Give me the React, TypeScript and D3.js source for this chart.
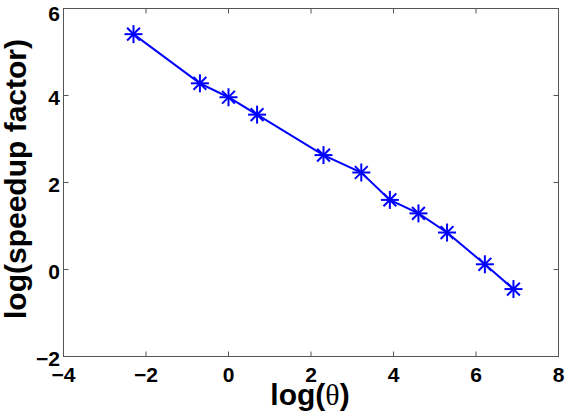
import React from "react";
import * as d3 from "d3";

const xValues = [-2.303, -0.693, 0, 0.693, 2.303, 3.219, 3.912, 4.605, 5.298, 6.215, 6.908];
const yValues = [5.41, 4.28, 3.96, 3.56, 2.63, 2.23, 1.6, 1.29, 0.85, 0.12, -0.45];
const xTicks = [-4, -2, 0, 2, 4, 6, 8];
const yTicks = [-2, 0, 2, 4, 6];

const W = 566, H = 416;
const L = 63.5, R = 558.5, T = 8.5, B = 356.5;

const fmt = (v: number) => (v < 0 ? "\u2212" + Math.abs(v) : String(v));

export default function App() {
  const x = d3.scaleLinear().domain([-4, 8]).range([L, R]);
  const y = d3.scaleLinear().domain([-2, 6]).range([B, T]);
  const pts = xValues.map((v, i) => [x(v), y(yValues[i])] as [number, number]);
  const line = d3.line()(pts) || "";
  const tl = 5;
  const font = "'Liberation Sans', Arial, sans-serif";
  const s = 9;
  const sd = 6.4;
  return (
    <svg width={W} height={H} style={{ position: "absolute", left: 0, top: 0 }}>
      <rect x={0} y={0} width={W} height={H} fill="#fff" />
      {xTicks.map((t) => (
        <g key={"xt" + t}>
          <line x1={x(t)} x2={x(t)} y1={B} y2={B - tl} stroke="#555" strokeWidth={1} />
          <line x1={x(t)} x2={x(t)} y1={T} y2={T + tl} stroke="#555" strokeWidth={1} />
          <text x={x(t)} y={381.5} textAnchor="middle" fontFamily={font} fontWeight="bold" fontSize={21}>
            {fmt(t)}
          </text>
        </g>
      ))}
      {yTicks.map((t) => (
        <g key={"yt" + t}>
          <line x1={L} x2={L + tl} y1={y(t)} y2={y(t)} stroke="#555" strokeWidth={1} />
          <line x1={R} x2={R - tl} y1={y(t)} y2={y(t)} stroke="#555" strokeWidth={1} />
          <text
            x={60}
            y={Math.max(y(t) + 9, 20.5)}
            textAnchor="end"
            fontFamily={font}
            fontWeight="bold"
            fontSize={21}
          >
            {fmt(t)}
          </text>
        </g>
      ))}
      <rect x={L} y={T} width={R - L} height={B - T} fill="none" stroke="#555" strokeWidth={1} />
      <path d={line} fill="none" stroke="#0000ff" strokeWidth={2} />
      {pts.map(([px, py], i) => (
        <g key={"m" + i} stroke="#0000ff" strokeWidth={2}>
          <line x1={px - s} x2={px + s} y1={py} y2={py} />
          <line x1={px} x2={px} y1={py - s} y2={py + s} />
          <line x1={px - sd} x2={px + sd} y1={py - sd} y2={py + sd} />
          <line x1={px - sd} x2={px + sd} y1={py + sd} y2={py - sd} />
        </g>
      ))}
      <text x={310} y={405} textAnchor="middle" fontFamily={font} fontWeight="bold" fontSize={30}>
        log(<tspan fontFamily="'Liberation Serif', 'Times New Roman', serif" fontWeight="normal">θ</tspan>)
      </text>
      <text
        transform={`translate(25.5, 179) rotate(-90)`}
        textAnchor="middle"
        fontFamily={font}
        fontWeight="bold"
        fontSize={30}
      >
        log(speedup factor)
      </text>
    </svg>
  );
}
